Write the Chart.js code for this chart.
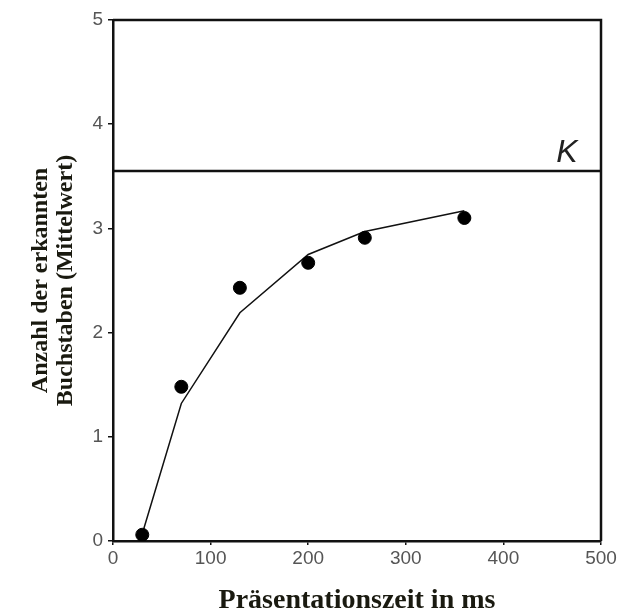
<!DOCTYPE html>
<html>
<head>
<meta charset="utf-8">
<script src="https://cdn.jsdelivr.net/npm/chart.js@4.4.1/dist/chart.umd.min.js"></script>
<style>
    html, body { margin: 0; padding: 0; background: #fff; }
    #wrap { width: 621px; height: 616px; }
</style>
</head>
<body>
<div id="wrap"><canvas id="chart" width="621" height="616"></canvas></div>
<script>
// presentation time (ms) and mean number of recognised letters
var times = [30, 70, 130, 200, 258, 360];
var means = [0.06, 1.48, 2.43, 2.67, 2.91, 3.10];
var fitted = [0.07, 1.32, 2.19, 2.75, 2.97, 3.17];
// capacity K
var kValue = 3.55;
var kRange = [0, 500];

var xTicks = [0, 100, 200, 300, 400, 500];
var yTicks = [0, 1, 2, 3, 4, 5];

function toPoints(xs, ys) {
    return xs.map(function (x, i) { return { x: x, y: ys[i] }; });
}

// frame on top/right and the K label
var framePlugin = {
    id: 'frame',
    afterDraw: function (chart) {
        var ctx = chart.ctx;
        var a = chart.chartArea;
        ctx.save();
        ctx.strokeStyle = '#111';
        ctx.lineWidth = 2.5;
        ctx.beginPath();
        ctx.moveTo(a.left, a.top);
        ctx.lineTo(a.right, a.top);
        ctx.lineTo(a.right, a.bottom);
        ctx.stroke();

        var xs = chart.scales.x, ys = chart.scales.y;
        ctx.fillStyle = '#222';
        ctx.font = 'italic 32px "Liberation Sans", Arial, sans-serif';
        ctx.textAlign = 'center';
        ctx.textBaseline = 'bottom';
        ctx.fillText('K', xs.getPixelForValue(465), ys.getPixelForValue(kValue) - 2);
        ctx.restore();
    }
};

var ctx = document.getElementById('chart').getContext('2d');
var chart = new Chart(ctx, {
    type: 'scatter',
    data: {
        datasets: [{
            data: toPoints(times, means),
            backgroundColor: '#000',
            borderColor: '#000',
            pointRadius: 6.5,
            showLine: false
        }, {
            data: toPoints(times, fitted),
            borderColor: '#111',
            borderWidth: 1.5,
            pointRadius: 0,
            showLine: true,
            tension: 0
        }, {
            data: toPoints(kRange, [kValue, kValue]),
            borderColor: '#111',
            borderWidth: 2.5,
            pointRadius: 0,
            showLine: true
        }]
    },
    options: {
        responsive: false,
        animation: false,
        layout: { padding: { top: 20, right: 20, left: 0, bottom: 0 } },
        plugins: {
            legend: { display: false },
            tooltip: { enabled: false }
        },
        scales: {
            x: {
                type: 'linear',
                min: 0,
                max: 500,
                afterBuildTicks: function (s) { s.ticks = xTicks.map(function (v) { return { value: v }; }); },
                border: { display: true, color: '#111', width: 2.5 },
                grid: { drawOnChartArea: false, drawTicks: true, tickLength: 4, color: '#111', lineWidth: 1.5 },
                ticks: { color: '#555', padding: 2, font: { family: '"Liberation Sans", Arial, sans-serif', size: 19 } },
                title: {
                    display: true,
                    text: 'Präsentationszeit in ms',
                    color: '#1a1a10',
                    padding: { top: 0, bottom: 0 },
                    font: { family: '"Liberation Serif", "Times New Roman", serif', size: 28, weight: 'bold', lineHeight: 1.1 }
                },
                afterFit: function (s) { s.height = 75; }
            },
            y: {
                min: 0,
                max: 5,
                afterBuildTicks: function (s) { s.ticks = yTicks.map(function (v) { return { value: v }; }); },
                border: { display: true, color: '#111', width: 2.5 },
                grid: { drawOnChartArea: false, drawTicks: true, tickLength: 5, color: '#111', lineWidth: 1.5 },
                ticks: { color: '#555', padding: 5, font: { family: '"Liberation Sans", Arial, sans-serif', size: 19 } },
                title: {
                    display: true,
                    text: ['Anzahl der erkannten', 'Buchstaben (Mittelwert)'],
                    color: '#1a1a10',
                    padding: { top: 28, bottom: 0 },
                    font: { family: '"Liberation Serif", "Times New Roman", serif', size: 24, weight: 'bold', lineHeight: 1.05 }
                },
                afterFit: function (s) { s.width = 113; }
            }
        }
    },
    plugins: [framePlugin]
});
</script>
</body>
</html>
